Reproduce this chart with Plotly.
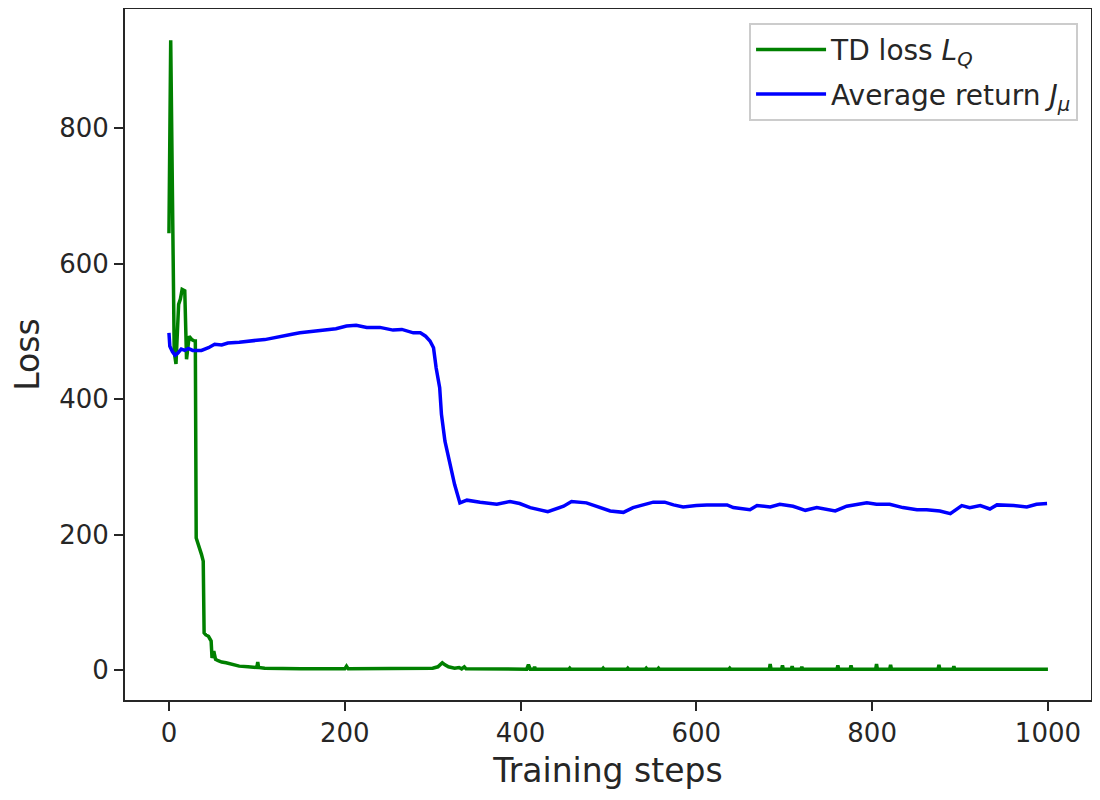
import plotly.graph_objects as go

# TD loss L_Q (green)
td_steps = [0, 2, 4, 6, 8, 10, 11, 13, 15, 18, 20, 23, 26, 29, 30, 31, 33, 35, 37, 39,
            40, 42, 45, 48, 49, 51, 53, 56, 60, 65, 70, 75, 80, 90, 100, 101, 102, 109,
            120, 150, 200, 202, 204, 250, 300, 306, 311, 314, 318, 325, 330, 333, 336, 338,
            360, 400, 407, 409, 411, 415, 416, 417, 455, 456, 457, 493, 494, 495, 521, 522,
            523, 542, 543, 544, 556, 557, 558, 600, 637, 638, 639, 683, 684, 685, 697, 698,
            699, 708, 709, 710, 719, 720, 721, 760, 761, 762, 775, 776, 777, 804, 805, 806,
            820, 821, 822, 875, 876, 877, 892, 893, 894, 950, 1000]
td_loss = [645, 930, 700, 470, 452, 520, 540, 548, 562, 560, 459, 493, 488, 486, 486, 195, 188, 180, 171, 161,
           55, 52, 50, 43, 18, 28, 16, 14, 12, 11, 9, 8, 6, 5, 4, 12, 4, 3,
           2.5, 2, 2, 6, 2, 2, 3, 5, 11, 8, 5, 3, 4, 2, 5, 2,
           2, 1.5, 1.5, 8, 1.5, 1.5, 5, 1.5, 1.5, 3, 1.5, 1.5, 3, 1.5, 1.5, 3,
           1.5, 1.5, 3, 1.5, 1.5, 3, 1.5, 1.5, 1.5, 3, 1.5, 1.5, 9, 1.5, 1.5, 7,
           1.5, 1.5, 6, 1.5, 1.5, 5, 1.5, 1.5, 7, 1.5, 1.5, 7, 1.5, 1.5, 9, 1.5,
           1.5, 8, 1.5, 1.5, 8, 1.5, 1.5, 6, 1.5, 1.5, 1.5]

# average return J_mu (blue)
ret_steps = [0, 1, 4, 7, 10, 14, 18, 22, 27, 37, 45, 52, 60, 67, 80, 90, 100, 109, 126, 140,
             149, 165, 179, 190, 202, 213, 225, 240, 255, 265, 278, 286, 292, 297, 301, 304, 308, 310, 314, 320,
             325, 331, 339, 354, 373, 388, 399, 411, 431, 449, 458, 475, 490, 502, 517, 528, 551, 564, 574, 585,
             600, 612, 635, 642, 661, 669, 684, 695, 710, 724, 737, 758, 771, 794, 805, 820, 835, 851, 862, 877,
             889, 902, 911, 923, 934, 942, 961, 976, 987, 999]
avg_return = [498, 478, 470, 465, 468, 474, 472, 475, 472, 472, 476, 481, 480, 483, 484, 486, 487, 488, 493, 496,
              498, 500, 503, 504, 508, 509, 506, 506, 502, 503, 498, 498, 493, 486, 476, 446, 417, 378, 338, 304,
              274, 247, 251, 248, 245, 249, 246, 240, 234, 242, 249, 247, 240, 235, 233, 240, 248, 248, 244, 241,
              243, 244, 244, 240, 237, 243, 241, 245, 242, 236, 240, 235, 242, 247, 245, 245, 240, 237, 237, 235,
              231, 243, 240, 243, 238, 244, 243, 241, 245, 246]

x_ticks = [0, 200, 400, 600, 800, 1000]
y_ticks = [0, 200, 400, 600, 800]

fig = go.Figure()
fig.add_trace(go.Scatter(x=td_steps, y=td_loss, mode='lines',
                         line=dict(color='#008000', width=3.5),
                         legendgroup='a',
                         name='TD loss <i>L</i><sub><i>Q</i></sub>'))
fig.add_trace(go.Scatter(x=ret_steps, y=avg_return, mode='lines',
                         line=dict(color='#0000ff', width=3.5),
                         legendgroup='b',
                         name='Average return <i>J</i><sub><i>μ</i></sub>'))

# the page body has an 8px margin, so the figure is a bit smaller than the window
fig.update_layout(
    width=1092, height=792,
    margin=dict(l=117, r=9, t=1, b=100),
    plot_bgcolor='white', paper_bgcolor='white',
    font=dict(family='DejaVu Sans', size=26, color='#262626'),
    showlegend=True,
    legend=dict(x=0.9866, y=0.98, xanchor='right', yanchor='top',
                bgcolor='white', bordercolor='#cccccc', borderwidth=2,
                traceorder='grouped', tracegroupgap=5, itemwidth=70,
                font=dict(family='DejaVu Sans', size=28, color='#262626')),
)
fig.update_xaxes(range=[-50, 1049], tickvals=x_ticks, ticks='outside', ticklen=9,
                 tickwidth=2, tickcolor='#262626', showgrid=False, zeroline=False,
                 showline=True, linecolor='#262626', linewidth=2, mirror=True,
                 automargin=False, tickfont=dict(size=26),
                 title=dict(text='Training steps', font=dict(size=33), standoff=12))
fig.update_yaxes(range=[-44, 976], tickvals=y_ticks, ticks='outside', ticklen=9,
                 tickwidth=2, tickcolor='#262626', showgrid=False, zeroline=False,
                 showline=True, linecolor='#262626', linewidth=2, mirror=True,
                 automargin=False, tickfont=dict(size=26),
                 title=dict(text='Loss', font=dict(size=33), standoff=12))

fig.write_html("out.html")
